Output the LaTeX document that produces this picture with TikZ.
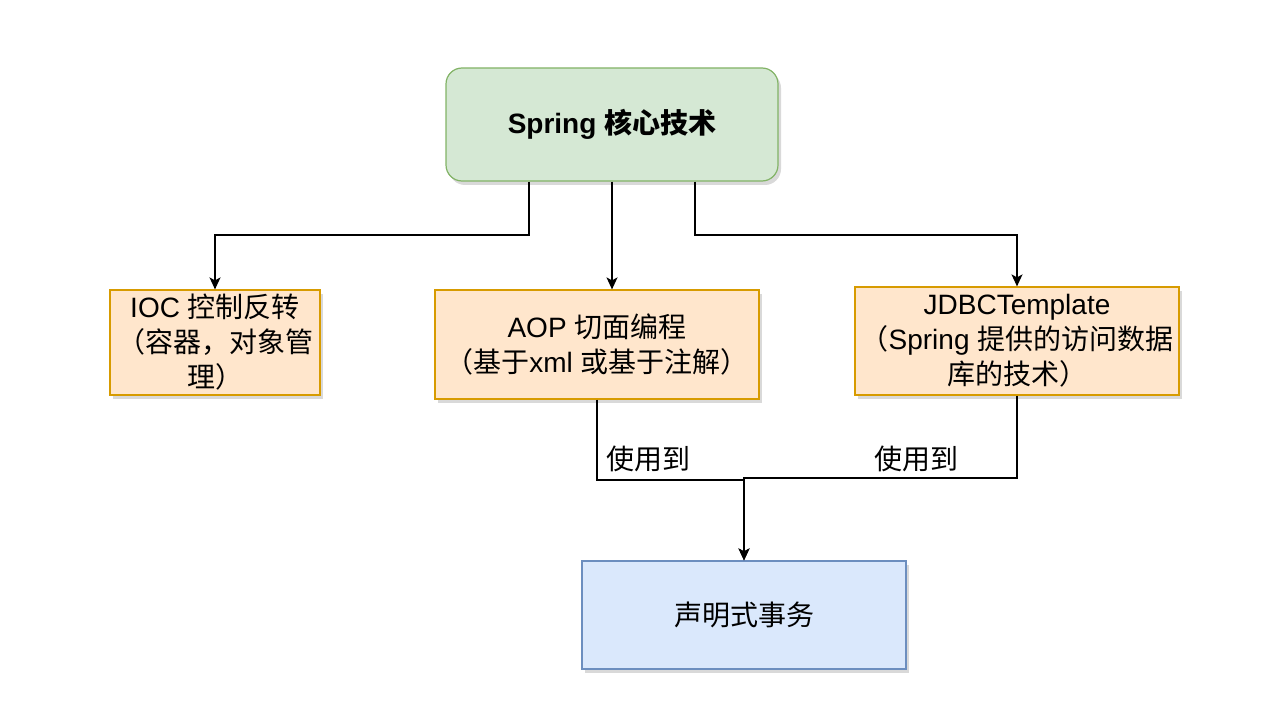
\documentclass[tikz,border=0pt]{standalone}
\usepackage{fontspec}
\setmainfont{Liberation Sans}
\newfontfamily\cjk{Noto Sans CJK SC}
\usetikzlibrary{positioning,shadows,arrows.meta}

\definecolor{greenfill}{HTML}{D5E8D4}
\definecolor{greenline}{HTML}{82B366}
\definecolor{orangefill}{HTML}{FFE6CC}
\definecolor{orangeline}{HTML}{D79B00}
\definecolor{bluefill}{HTML}{DAE8FC}
\definecolor{blueline}{HTML}{6C8EBF}

\tikzset{
  box/.style={draw, line width=1.2pt, align=center, inner sep=0pt,
    font=\fontsize{28}{35}\selectfont,
    drop shadow={shadow xshift=3pt, shadow yshift=-4pt, opacity=0.25, fill=black!60}},
  link/.style={draw, line width=1.5pt, -{Stealth[length=12pt, width=11pt, inset=3pt]}},
  tag/.style={font=\fontsize{28}{35}\selectfont\cjk, fill=white, inner sep=1pt}
}

\begin{document}
\begin{tikzpicture}[x=1pt, y=-1pt]
      \useasboundingbox (0,0) rectangle (1279,722);

      % Nodo principal
      \node[box, fill=greenfill, draw=greenline, rounded corners=16pt,
            minimum width=332pt, minimum height=113pt] (spring) at (612,124.5)
            {\bfseries Spring {\cjk\bfseries 核心技术}};

      % Nodos de segundo nivel
      \node[box, fill=orangefill, draw=orangeline,
            minimum width=210pt, minimum height=105pt] (ioc) at (215,342.5)
            {IOC {\cjk 控制反转}\\{\cjk （容器，对象管}\\{\cjk 理）}};
      \node[box, fill=orangefill, draw=orangeline,
            minimum width=324pt, minimum height=109pt] (aop) at (597,344.5)
            {AOP {\cjk 切面编程}\\{\cjk （基于}xml {\cjk 或基于注解）}};
      \node[box, fill=orangefill, draw=orangeline,
            minimum width=324pt, minimum height=108pt] (jdbc) at (1017,341)
            {JDBCTemplate\\{\cjk （}Spring {\cjk 提供的访问数据}\\{\cjk 库的技术）}};

      % Nodo inferior
      \node[box, fill=bluefill, draw=blueline,
            minimum width=324pt, minimum height=108pt] (decl) at (744,615)
            {\cjk 声明式事务};

      % Conexiones
      \draw[link] (spring.south -| 529,0) -- (529,235) -| (ioc.north);
      \draw[link] (spring.south -| 612,0) -- (aop.north -| 612,0);
      \draw[link] (spring.south -| 695,0) -- (695,235) -| (jdbc.north);
      \draw[link] (aop.south) -- (aop.south |- 0,480) -| (decl.north);
      \draw[link] (jdbc.south) -- (jdbc.south |- 0,478) -| (decl.north);

      % Etiquetas
      \node[tag] (use1) at (648,459) {使用到};
      \node[tag] (use2) at (916,459) {使用到};
    \end{tikzpicture}
\end{document}
